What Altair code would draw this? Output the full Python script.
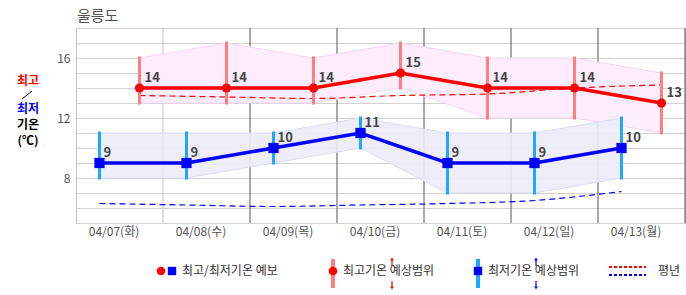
import json
import altair as alt
import pandas as pd

FONT = "Noto Sans CJK KR"

# ---- data ----
dates = ["04/07(화)", "04/08(수)", "04/09(목)", "04/10(금)", "04/11(토)", "04/12(일)", "04/13(월)"]
tmax = [14, 14, 14, 15, 14, 14, 13]
tmin = [9, 9, 10, 11, 9, 9, 10]
tmax_lo = [13, 13, 13, 14, 12, 12, 11]
tmax_hi = [16, 17, 16, 17, 16, 16, 15]
tmin_lo = [8, 8, 9, 10, 7, 7, 8]
tmin_hi = [11, 11, 11, 12, 11, 11, 12]
norm_max = [13.5, 13.4, 13.3, 13.5, 13.6, 14.0, 14.2]
norm_min = [6.3, 6.2, 6.1, 6.2, 6.3, 6.5, 7.1]
y_labels = [8, 12, 16]

W, H = 609, 195
OFF = 0.23  # horizontal offset of max/min series within a day band

df = pd.DataFrame({
    "i": list(range(len(dates))),
    "date": dates,
    "tmax": tmax, "tmin": tmin,
    "tmax_lo": tmax_lo, "tmax_hi": tmax_hi,
    "tmin_lo": tmin_lo, "tmin_hi": tmin_hi,
    "norm_max": norm_max, "norm_min": norm_min,
})
df["xmax"] = df["i"] + 0.5 + OFF
df["xmin"] = df["i"] + 0.5 - OFF

bounds = pd.DataFrame({"b": list(range(1, len(dates) + 1))})

xscale = alt.Scale(domain=[0, len(dates)], nice=False, zero=False)
yscale = alt.Scale(domain=[5, 18], nice=False, zero=False)

label_expr = json.dumps(dates, ensure_ascii=False) + "[floor(datum.value)]"
x_axis = alt.Axis(values=[i + 0.5 for i in range(len(dates))], labelExpr=label_expr,
                  grid=False, ticks=False, domain=False, title=None,
                  labelFont=FONT, labelFontSize=12, labelColor="#555555",
                  labelPadding=3, labelOffset=-6)
y_axis = alt.Axis(values=list(range(5, 19)),
                  labelExpr="indexof(" + json.dumps(y_labels) + ", datum.value) >= 0 ? datum.label : ''",
                  grid=True, gridColor="#d2d2d2", gridWidth=1, ticks=False, domain=False,
                  title=None, labelFont=FONT, labelFontSize=12, labelColor="#555555",
                  labelPadding=6)


def X(f):
    return alt.X(f"{f}:Q", scale=xscale, axis=x_axis)


def Y(f):
    return alt.Y(f"{f}:Q", scale=yscale, axis=y_axis)


base = alt.Chart(df)

# vertical day separators
vlight = alt.Chart(bounds).transform_filter("datum.b == 1").mark_rule(
    color="#c0c0c0", strokeWidth=1).encode(x=alt.X("b:Q", scale=xscale, axis=x_axis))
vdark = alt.Chart(bounds).transform_filter("datum.b > 1").mark_rule(
    color="#555555", strokeWidth=1).encode(x=alt.X("b:Q", scale=xscale, axis=x_axis))

# range bands
band_max = base.mark_area(color="#fcecfc", opacity=1).encode(x=X("xmax"), y=Y("tmax_lo"), y2="tmax_hi:Q")
band_max_hi = base.mark_line(color="#f4d8f4", strokeWidth=1).encode(x=X("xmax"), y=Y("tmax_hi"))
band_max_lo = base.mark_line(color="#f4d8f4", strokeWidth=1).encode(x=X("xmax"), y=Y("tmax_lo"))
band_min = base.mark_area(color="#ececfa", opacity=0.9).encode(x=X("xmin"), y=Y("tmin_lo"), y2="tmin_hi:Q")
band_min_hi = base.mark_line(color="#dcdcf4", strokeWidth=1).encode(x=X("xmin"), y=Y("tmin_hi"))
band_min_lo = base.mark_line(color="#dcdcf4", strokeWidth=1).encode(x=X("xmin"), y=Y("tmin_lo"))

# normals
nmax = base.mark_line(color="#ff0000", strokeWidth=1.2, strokeDash=[6, 4], interpolate="monotone").encode(
    x=X("xmax"), y=Y("norm_max"))
nmin = base.mark_line(color="#0000ff", strokeWidth=1.2, strokeDash=[6, 4], interpolate="monotone").encode(
    x=X("xmin"), y=Y("norm_min"))

# range bars
bar_max = base.mark_rule(color="#ff7f7f", strokeWidth=3, strokeCap="square").encode(
    x=X("xmax"), y=Y("tmax_lo"), y2="tmax_hi:Q")
bar_min = base.mark_rule(color="#1ea8ff", strokeWidth=3, strokeCap="square").encode(
    x=X("xmin"), y=Y("tmin_lo"), y2="tmin_hi:Q")

# forecast lines and points
line_max = base.mark_line(color="#ff0000", strokeWidth=3.5).encode(x=X("xmax"), y=Y("tmax"))
line_min = base.mark_line(color="#0000ff", strokeWidth=3.5).encode(x=X("xmin"), y=Y("tmin"))
pt_max = base.mark_point(shape="circle", filled=True, color="#ff0000", size=85, opacity=1).encode(
    x=X("xmax"), y=Y("tmax"))
pt_min = base.mark_point(shape="square", filled=True, color="#0000ff", size=105, opacity=1).encode(
    x=X("xmin"), y=Y("tmin"))
lab_max = base.mark_text(align="left", baseline="middle", dx=5, dy=-10, font=FONT, fontSize=13,
                         fontWeight="bold", color="#444444").encode(x=X("xmax"), y=Y("tmax"), text="tmax:Q")
lab_min = base.mark_text(align="left", baseline="middle", dx=4, dy=-10, font=FONT, fontSize=13,
                         fontWeight="bold", color="#444444").encode(x=X("xmin"), y=Y("tmin"), text="tmin:Q")

# ---- decorations (title, left label, legend) ----
one = pd.DataFrame({"a": [0]})


def dtext(txt, x, y, color="#333333", size=12, bold=False, align="left"):
    return alt.Chart(one).mark_text(text=txt, align=align, baseline="middle", fontSize=size, font=FONT,
                                    fontWeight="bold" if bold else "normal", color=color).encode(
        x=alt.value(x), y=alt.value(y))


def drule(x, y, x2, y2, color, width, dash=None):
    kw = dict(color=color, strokeWidth=width)
    if dash:
        kw["strokeDash"] = dash
    return alt.Chart(one).mark_rule(**kw).encode(x=alt.value(x), y=alt.value(y), x2=alt.value(x2), y2=alt.value(y2))


def dpoint(x, y, shape, color, size):
    return alt.Chart(one).mark_point(shape=shape, filled=True, color=color, size=size, opacity=1).encode(
        x=alt.value(x), y=alt.value(y))


deco = [
    dtext("울릉도", 1, -12, color="#555555", size=15),
    dtext("최고", -48, 53, color="#ff0000", size=12, bold=True, align="center"),
    drule(-54, 71, -44, 63, "#000000", 1),
    dtext("최저", -48, 81, color="#0000ff", size=12, bold=True, align="center"),
    dtext("기온", -48, 97, color="#000000", size=12, bold=True, align="center"),
    dtext("(℃)", -48, 113, color="#000000", size=12, bold=True, align="center"),
    # legend item 1
    dpoint(85, 243, "circle", "#ff0000", 75),
    dpoint(96, 243, "square", "#0000ff", 70),
    dtext("최고/최저기온 예보", 106, 243),
    # legend item 2
    drule(257, 231, 257, 260, "#ff7f7f", 4),
    dpoint(257, 243, "circle", "#ff0000", 75),
    dtext("최고기온 예상범위", 267, 243),
    drule(316, 232, 316, 238, "#ff0000", 1.2),
    dpoint(316, 231, "triangle-up", "#ff0000", 14),
    drule(316, 253, 316, 259, "#ff0000", 1.2),
    dpoint(316, 260, "triangle-down", "#ff0000", 14),
    # legend item 3
    drule(402, 231, 402, 260, "#1ea8ff", 4),
    dpoint(402, 243, "square", "#0000ff", 70),
    dtext("최저기온 예상범위", 412, 243),
    drule(460, 232, 460, 238, "#0000ff", 1.2),
    dpoint(460, 231, "triangle-up", "#0000ff", 14),
    drule(460, 253, 460, 259, "#0000ff", 1.2),
    dpoint(460, 260, "triangle-down", "#0000ff", 14),
    # legend item 4
    drule(533, 239, 570, 239, "#ff0000", 2, [3, 2]),
    drule(533, 247, 570, 247, "#0000ff", 2, [3, 2]),
    dtext("평년", 582, 243),
]

chart = alt.layer(
    vlight, vdark,
    band_max, band_max_hi, band_max_lo, band_min, band_min_hi, band_min_lo,
    nmax, nmin, bar_max, bar_min, line_max, line_min, pt_max, pt_min, lab_max, lab_min,
    *deco,
).properties(
    width=W, height=H,
    autosize=alt.AutoSizeParams(type="none"),
    padding={"left": 76, "top": 28, "right": 1, "bottom": 72},
    background="#ffffff",
).configure_view(stroke="#c0c0c0", strokeWidth=1)

chart.save("out.html", embed_options={"renderer": "svg", "actions": False})
